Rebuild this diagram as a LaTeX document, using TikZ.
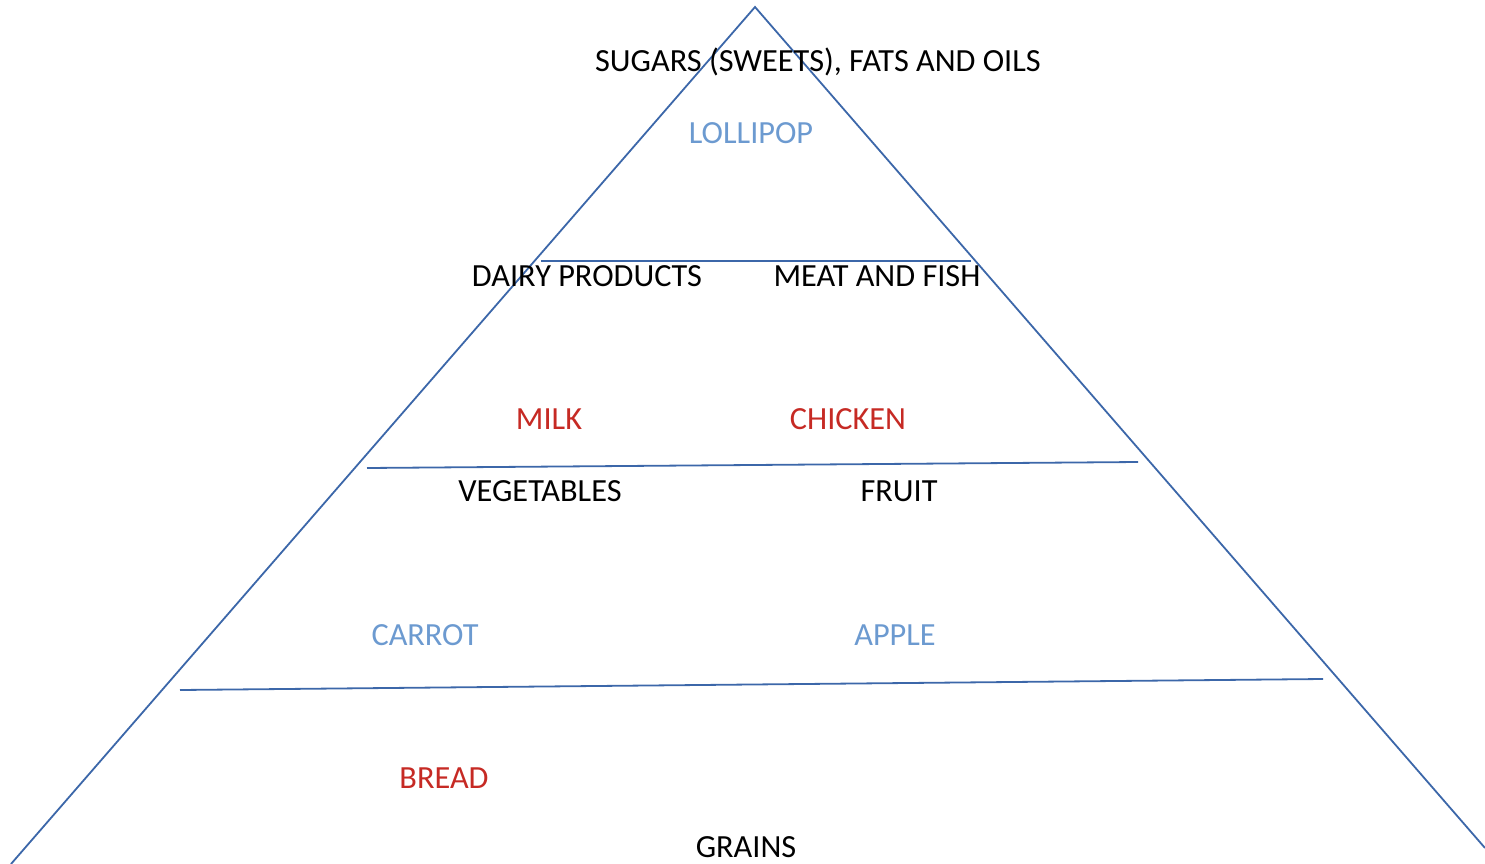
\documentclass[tikz,border=0pt]{standalone}
\usepackage{fontspec}
\setmainfont{Carlito}
\usepackage{tikz}
\usetikzlibrary{positioning}
\usepackage{xcolor}
\definecolor{pyrline}{HTML}{3C67A9}
\definecolor{itemblue}{HTML}{6C9AD0}
\definecolor{itemred}{HTML}{C62A24}

\begin{document}
\begin{tikzpicture}[x=1pt,y=-1pt,
  grp/.style={font=\fontsize{32.3}{34}\selectfont,text=black,inner sep=0pt},
  food/.style={grp,text=itemblue},
  hotfood/.style={grp,text=itemred},
  level/.style={draw=pyrline,line width=1.8pt}]
\useasboundingbox (0,0) rectangle (1485,864);
% pyramid outline
\coordinate (top) at (755,7);
\coordinate (bl) at (11,864);
\coordinate (br) at (1485,848);
\draw[level] (bl) -- (top) -- (br);
% shelves
\coordinate (l1) at (541,261);  \coordinate (r1) at (971,261);
\coordinate (l2) at (367,468);  \coordinate (r2) at (1138,462);
\coordinate (l3) at (180,690);  \coordinate (r3) at (1323,679);
\draw[level] (l1) -- (r1);
\draw[level] (l2) -- (r2);
\draw[level] (l3) -- (r3);
% labels
\node[grp] (sugars) at (818,62) {SUGARS (SWEETS), FATS AND OILS};
\node[food] (lollipop) at (751,133) {LOLLIPOP};
\node[grp] (dairy) at (587,276) {DAIRY PRODUCTS};
\node[grp] (meat) at (877,276) {MEAT AND FISH};
\node[hotfood] (milk) at (549,419) {MILK};
\node[hotfood] (chicken) at (848,419) {CHICKEN};
\node[grp] (veg) at (540,491) {VEGETABLES};
\node[grp] (fruit) at (899,491) {FRUIT};
\node[food] (carrot) at (425,635) {CARROT};
\node[food] (apple) at (895,635) {APPLE};
\node[hotfood] (bread) at (444,778) {BREAD};
\node[grp] (grains) at (746,847) {GRAINS};
\end{tikzpicture}
\end{document}
